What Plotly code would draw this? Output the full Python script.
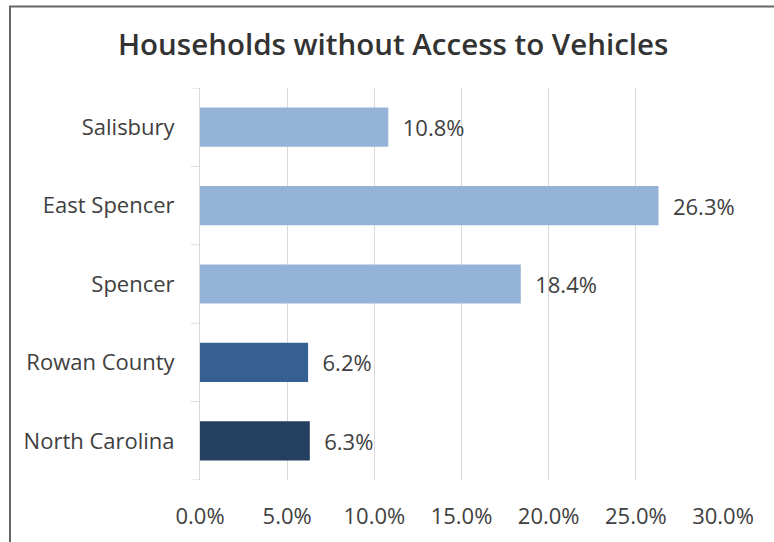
import plotly.graph_objects as go

# Share of households with no vehicle available
places = ["Salisbury", "East Spencer", "Spencer", "Rowan County", "North Carolina"]
pct_no_vehicle = [10.8, 26.3, 18.4, 6.2, 6.3]
bar_colors = ["#95B3D7", "#95B3D7", "#95B3D7", "#366092", "#243F60"]
x_ticks = [0, 5, 10, 15, 20, 25, 30]
x_tick_text = ["0.0%", "5.0%", "10.0%", "15.0%", "20.0%", "25.0%", "30.0%"]

W, H = 774, 542
L, R, T, B = 200, 51, 88, 59
pw, ph = W - L - R, H - T - B

FONT = "Open Sans, Noto Sans, sans-serif"
TXT = "#404040"

fig = go.Figure(
    go.Bar(
        y=places,
        x=pct_no_vehicle,
        orientation="h",
        marker=dict(color=bar_colors, line=dict(width=0)),
        text=[f"\u00a0\u00a0{v:.1f}%" for v in pct_no_vehicle],
        textposition="outside",
        textfont=dict(size=22, color=TXT, family=FONT),
        cliponaxis=False,
        width=0.5,
    )
)

# category separator ticks on the left axis
shapes = []
for k in range(len(places) + 1):
    shapes.append(dict(
        type="line", xref="paper", yref="y",
        x0=-9 / pw, x1=0, y0=k - 0.5, y1=k - 0.5,
        line=dict(color="#d9d9d9", width=1),
    ))

# outer frame
def px_x(p):
    return (p - L) / pw

def px_y(p):
    return (H - B - p) / ph

shapes.append(dict(
    type="rect", xref="paper", yref="paper",
    x0=px_x(10), x1=px_x(790), y0=px_y(560), y1=px_y(6),
    line=dict(color="#666666", width=2), fillcolor="rgba(0,0,0,0)", layer="above",
))

fig.update_layout(
    width=W, height=H,
    margin=dict(l=L, r=R, t=T, b=B),
    paper_bgcolor="white", plot_bgcolor="white",
    title=dict(
        text="Households without Access to Vehicles",
        x=0.508, xref="container", xanchor="center",
        y=1 - 45 / H, yanchor="middle",
        font=dict(size=29.5, color="#333333", family=FONT, weight=600),
    ),
    showlegend=False,
    shapes=shapes,
    bargap=0.5,
    xaxis=dict(
        range=[0, 30],
        tickvals=x_ticks, ticktext=x_tick_text,
        showgrid=True, gridcolor="#d9d9d9", gridwidth=1,
        zeroline=False, showline=False, ticks="",
        tickfont=dict(size=22, color=TXT, family=FONT),
        ticklabelstandoff=21,
        fixedrange=True,
    ),
    yaxis=dict(
        categoryorder="array", categoryarray=places[::-1],
        autorange=False, range=[-0.5, len(places) - 0.5],
        showline=True, linecolor="#d9d9d9", linewidth=1,
        showgrid=False, ticks="",
        tickfont=dict(size=22, color=TXT, family=FONT),
        ticklabelstandoff=20,
        fixedrange=True,
    ),
)

fig.write_html("out.html")
